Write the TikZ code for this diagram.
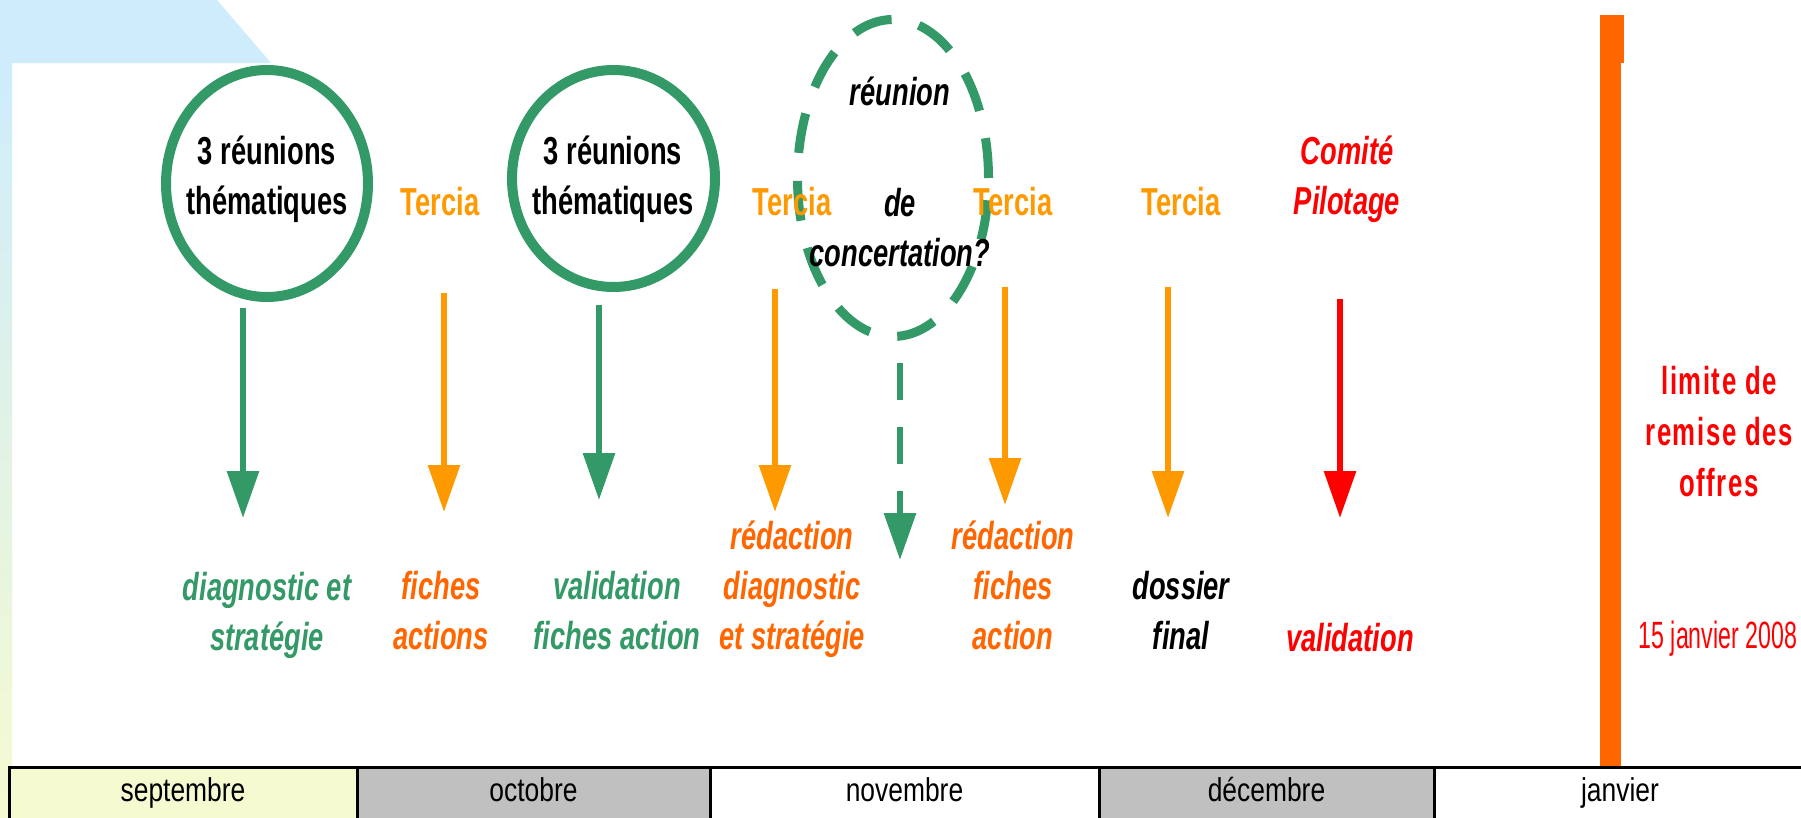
\documentclass[tikz,border=0pt]{standalone}
\usepackage{fontspec}
\setmainfont{Liberation Sans}
\newfontfamily\condfont[FakeStretch=0.7]{Liberation Sans}
\newfontfamily\monthfont[FakeStretch=0.8]{Liberation Sans}
\newfontfamily\datefont[FakeStretch=0.61]{Liberation Sans}
\newfontfamily\spacedfont[FakeStretch=0.66, LetterSpace=4]{Liberation Sans}
\usetikzlibrary{shapes.geometric, positioning, arrows.meta}

\definecolor{tgreen}{RGB}{51,153,102}
\definecolor{lorange}{RGB}{255,153,0}
\definecolor{dorange}{RGB}{255,102,0}
\definecolor{tred}{RGB}{255,0,0}
\definecolor{skyblue}{RGB}{206,236,252}
\definecolor{paleyellow}{RGB}{245,250,208}
\definecolor{cellgrey}{RGB}{192,192,192}

\tikzset{
  meet/.style={ellipse, draw=tgreen, line width=10pt, inner sep=0pt},
  bigtext/.style={font=\condfont\bfseries\fontsize{39}{50}\selectfont, align=center, inner sep=0pt},
  tercia/.style={bigtext, text=lorange, anchor=base},
  outcome/.style={font=\condfont\bfseries\itshape\fontsize{39}{50}\selectfont, align=center, inner sep=0pt},
  month/.style={draw=black, line width=3pt, outer sep=0pt, inner sep=0pt, minimum height=52pt,
    text height=25pt, text depth=8pt, font=\monthfont\fontsize{33}{38}\selectfont},
  tip/.style={-{Triangle[width=31pt,length=47pt]}, line width=6pt}
}

\begin{document}
\begin{tikzpicture}[x=1pt,y=-1pt]
\useasboundingbox (0,0) rectangle (1801,817);
\fill[white] (0,0) rectangle (1801,817);

% background corner
\fill[skyblue] (0,0) -- (217,0) -- (271,63) -- (0,63) -- cycle;
\shade[top color=skyblue, bottom color=paleyellow] (0,63) rectangle (12,817);

% deadline bar
\fill[dorange] (1600,15) rectangle (1624,63);
\fill[dorange] (1600,63) rectangle (1621,767);

% meetings
\node[meet, minimum width=202pt, minimum height=227pt] (c1) at (267,183.5) {};
\node[bigtext] (c1txt) at (267,178.75) {3 réunions\\thématiques};
\node[meet, minimum width=203pt, minimum height=217pt] (c2) at (613.5,178.5) {};
\node[bigtext] (c2txt) at (613,178.75) {3 réunions\\thématiques};
\node[meet, line width=9pt, dash pattern=on 40pt off 28pt, minimum width=191pt, minimum height=317pt] (c3) at (893,178) {};
\node[outcome] (c3txt) at (900,172) {réunion\\[61pt]de\\concertation?};

\node[tercia] (t1) at (440,215) {Tercia};
\node[tercia] (t2) at (792,215) {Tercia};
\node[tercia] (t3) at (1013,215) {Tercia};
\node[tercia] (t4) at (1181,215) {Tercia};
\node[outcome, text=tred] (copil) at (1347,178.75) {Comité\\Pilotage};

% arrows
\coordinate (g1a) at (243,308);  \coordinate (g1b) at (243,518);
\coordinate (o1a) at (444,293);  \coordinate (o1b) at (444,512);
\coordinate (g2a) at (599,305);  \coordinate (g2b) at (599,500);
\coordinate (o2a) at (775,289);  \coordinate (o2b) at (775,512);
\coordinate (gda) at (900,363);  \coordinate (gdb) at (900,560);
\coordinate (o3a) at (1005,287); \coordinate (o3b) at (1005,505);
\coordinate (o4a) at (1168,287); \coordinate (o4b) at (1168,518);
\coordinate (ra) at (1340,299);  \coordinate (rb) at (1340,518);

\draw[tip, tgreen] (g1a) -- (g1b);
\draw[tip, lorange] (o1a) -- (o1b);
\draw[tip, tgreen] (g2a) -- (g2b);
\draw[tip, lorange] (o2a) -- (o2b);
\draw[tip, tgreen, dash pattern=on 37pt off 27pt] (gda) -- (gdb);
\draw[tip, lorange] (o3a) -- (o3b);
\draw[tip, lorange] (o4a) -- (o4b);
\draw[tip, tred] (ra) -- (rb);

% outcomes
\node[outcome, text=tgreen] (l1) at (267,615) {diagnostic et\\stratégie};
\node[outcome, text=dorange] (l2) at (441,611) {fiches\\actions};
\node[outcome, text=tgreen] (l3) at (617,611) {validation\\fiches action};
\node[outcome, text=dorange] (l4) at (792,589) {rédaction\\diagnostic\\et stratégie};
\node[outcome, text=dorange] (l5) at (1013,585) {rédaction\\fiches\\action};
\node[outcome] (l6) at (1181,611) {dossier\\final};
\node[outcome, text=tred, anchor=base] (l7) at (1350,651) {validation};

\node[font=\spacedfont\bfseries\fontsize{39}{51}\selectfont, text=tred, align=center, inner sep=0pt]
  (limit) at (1719,432) {limite de\\remise des\\offres};
\node[font=\datefont\fontsize{38}{44}\selectfont, text=tred, inner sep=0pt, anchor=base]
  (date) at (1718,648) {15 janvier 2008};

% months
\node[month, fill=paleyellow, minimum width=348pt] (sep) at (183,793) {septembre};
\node[month, fill=cellgrey, minimum width=353pt, right=0pt of sep] (oct) {octobre};
\node[month, fill=white, minimum width=389pt, right=0pt of oct] (nov) {novembre};
\node[month, fill=cellgrey, minimum width=335pt, right=0pt of nov] (dec) {décembre};
\node[month, fill=white, minimum width=372pt, right=0pt of dec] (jan) {janvier};
\end{tikzpicture}
\end{document}
